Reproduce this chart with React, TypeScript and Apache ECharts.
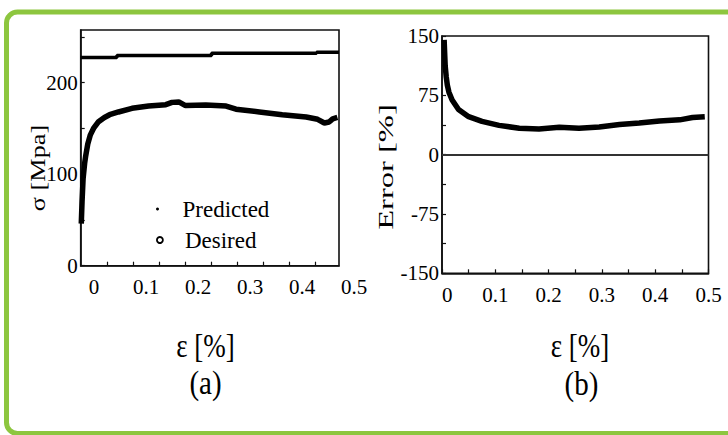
import React, { useEffect, useRef } from "react";
import * as echarts from "echarts";

// ---- data ----
const strainLabelsA = [0, 0.1, 0.2, 0.3, 0.4];
const strainExtraLabelA = 0.5;
const strainTicksA = [0.025, 0.075, 0.125, 0.175, 0.225, 0.275, 0.325, 0.375, 0.425];
const stressLabels = [0, 100, 200];
const stressTicks = [0, 50, 100, 150, 200, 250];

const strainLabelsB = [0, 0.1, 0.2, 0.3, 0.4, 0.5];
const strainTicksB = [0, 0.05, 0.1, 0.15, 0.2, 0.25, 0.3, 0.35, 0.4, 0.45, 0.5];
const errorLabels = [-150, -75, 0, 75, 150];
const errorTicks = [-150, -112.5, -75, -37.5, 0, 37.5, 75, 112.5, 150];

// Predicted stress (step-like line), [strain %, MPa]
const predicted: [number, number][] = [
  [-0.026, 227.5],
  [0.044, 229.6],
  [0.226, 232.2],
  [0.428, 233.3],
  [0.471, 233.3],
];

// Desired stress, [strain %, MPa]
const desired: [number, number][] = [
  [-0.0245, 46], [-0.023, 70], [-0.021, 95], [-0.018, 112], [-0.016, 120],
  [-0.012, 133], [-0.007, 143], [-0.001, 150], [0.008, 157], [0.02, 162],
  [0.03, 165], [0.047, 168], [0.073, 172], [0.105, 174.5], [0.138, 176],
  [0.15, 178.5], [0.163, 179], [0.176, 175], [0.215, 175.5], [0.254, 174.5],
  [0.273, 171], [0.318, 168], [0.362, 165], [0.408, 162.5], [0.43, 160],
  [0.443, 156], [0.452, 157], [0.459, 160.5], [0.468, 162],
];

// Error %, [strain %, error %]
const errorPct: [number, number][] = [
  [0.004, 145], [0.005, 128], [0.006, 112], [0.008, 98], [0.01, 88],
  [0.013, 79], [0.019, 69], [0.031, 57], [0.05, 48], [0.075, 42],
  [0.107, 37], [0.145, 33.5], [0.182, 32.5], [0.22, 34.5], [0.257, 33.5],
  [0.295, 35], [0.333, 38], [0.37, 40], [0.408, 42.5], [0.446, 44],
  [0.47, 47], [0.493, 48],
];

const SERIF = "Liberation Serif";
const INK = "#111";

const fmt = (v: number) => String(Math.round(v * 100) / 100);

export default function App() {
  const ref = useRef<HTMLDivElement>(null);

  useEffect(() => {
    if (!ref.current) return;
    const chart = echarts.init(ref.current, null, { renderer: "svg" });

    const axisLine = { show: true, onZero: false, lineStyle: { color: INK, width: 1.6 } };
    const tickStyle = { color: INK, width: 1.2 };
    const labelStyle = { color: "#000", fontFamily: SERIF, fontSize: 21 };

    chart.setOption({
      animation: false,
      backgroundColor: "#fff",
      textStyle: { fontFamily: SERIF },
      grid: [
        { left: 80.7, top: 30, width: 258.3, height: 235.7, show: true, borderColor: INK, borderWidth: 1.6 },
        { left: 442, top: 36, width: 266.5, height: 237.3, show: true, borderColor: INK, borderWidth: 1.6 },
      ],
      xAxis: [
        {
          type: "value", gridIndex: 0, min: -0.0256, max: 0.4711,
          axisLine, splitLine: { show: false },
          axisTick: { inside: true, length: 4, customValues: strainTicksA, lineStyle: tickStyle },
          axisLabel: { ...labelStyle, margin: 11, customValues: strainLabelsA, formatter: fmt },
        },
        {
          type: "value", gridIndex: 1, min: 0, max: 0.5,
          axisLine, splitLine: { show: false },
          axisTick: { inside: true, length: 4, customValues: strainTicksB, lineStyle: tickStyle },
          axisLabel: { ...labelStyle, margin: 11, customValues: strainLabelsB, formatter: fmt, alignMinLabel: "left" },
        },
      ],
      yAxis: [
        {
          type: "value", gridIndex: 0, min: 0, max: 257.6,
          axisLine, splitLine: { show: false },
          axisTick: { inside: true, length: 4, customValues: stressTicks, lineStyle: tickStyle },
          axisLabel: { ...labelStyle, margin: 3, customValues: stressLabels },
        },
        {
          type: "value", gridIndex: 1, min: -150, max: 150,
          axisLine, splitLine: { show: false },
          axisTick: { inside: true, length: 4, customValues: errorTicks, lineStyle: tickStyle },
          axisLabel: { ...labelStyle, margin: 3, customValues: errorLabels, padding: [10, 0, 0, 0] },
        },
      ],
      legend: [
        {
          data: [{ name: "Predicted", icon: "circle", itemStyle: { color: "#000" } }],
          left: 156, top: 197, padding: 0, itemWidth: 40, itemHeight: 3,
          textStyle: { fontFamily: SERIF, fontSize: 23, color: "#000", lineHeight: 24 },
        },
        {
          data: [{
            name: "Desired", icon: "circle",
            itemStyle: { color: "#fff", borderColor: "#000", borderWidth: 1.8 },
          }],
          left: 156, top: 228, padding: 0, itemWidth: 40, itemHeight: 6,
          textStyle: { fontFamily: SERIF, fontSize: 23, color: "#000", lineHeight: 24 },
        },
      ],
      series: [
        {
          name: "Predicted", type: "line", xAxisIndex: 0, yAxisIndex: 0,
          data: predicted, step: "end", symbol: "none",
          lineStyle: { color: "#000", width: 3.5 }, itemStyle: { color: "#000" },
        },
        {
          name: "Desired", type: "line", xAxisIndex: 0, yAxisIndex: 0,
          data: desired, symbol: "none",
          lineStyle: { color: "#000", width: 5.5 }, itemStyle: { color: "#000" },
        },
        {
          name: "Error", type: "line", xAxisIndex: 1, yAxisIndex: 1,
          data: errorPct, symbol: "none",
          lineStyle: { color: "#000", width: 5.5 },
          markLine: {
            silent: true, symbol: ["none", "none"], label: { show: false },
            lineStyle: { color: "#333", width: 1.8, type: "solid" },
            data: [{ yAxis: 0 }],
          },
        },
      ],
    });

    const x05 = chart.convertToPixel({ xAxisIndex: 0 }, strainExtraLabelA) as number;
    const y0 = chart.convertToPixel({ yAxisIndex: 0 }, 0) as number;

    const txt = (text: string, x: number, y: number, size: number, extra: any = {}) => ({
      type: "text", x, y, ...extra,
      style: {
        text, fontFamily: SERIF, fontSize: size, fill: "#000",
        align: "center", verticalAlign: "middle",
      },
    });

    chart.setOption({
      graphic: {
        elements: [
          {
            type: "rect", silent: true, z: -10,
            shape: { x: 6.5, y: 12, width: 760, height: 421.5, r: 11 },
            style: { fill: "none", stroke: "#8dc63f", lineWidth: 5 },
          },
          txt(fmt(strainExtraLabelA), x05, y0 + 21.5, 21),
          txt("σ [Mpa]", 37.5, 168, 21, { rotation: Math.PI / 2, scaleX: 1.25 }),
          txt("Error [%]", 386, 167, 21, { rotation: Math.PI / 2, scaleX: 1.55 }),
          txt("ε [%]", 205.5, 346, 27, { scaleY: 1.25 }),
          txt("ε [%]", 580, 346, 27, { scaleY: 1.25 }),
          txt("(a)", 205.5, 383, 29, { scaleY: 1.15 }),
          txt("(b)", 581.5, 384, 29, { scaleY: 1.15 }),
        ],
      },
    });

    return () => chart.dispose();
  }, []);

  return (
    <div
      ref={ref}
      style={{ position: "fixed", left: 0, top: 0, width: 728, height: 435, background: "#fff" }}
    />
  );
}
